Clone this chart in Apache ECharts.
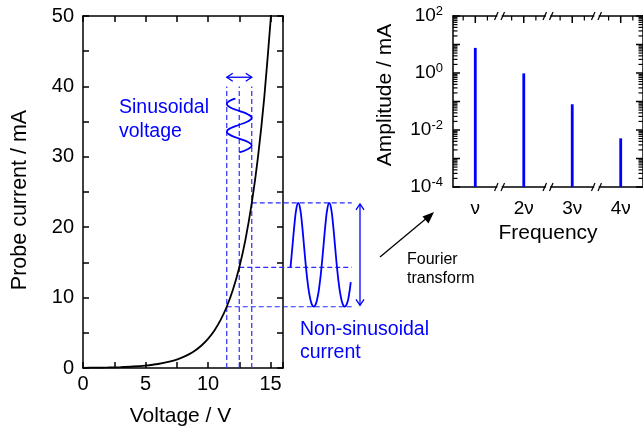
<!DOCTYPE html>
<html>
<head>
<meta charset="utf-8">
<script src="https://cdn.jsdelivr.net/npm/echarts@6/dist/echarts.min.js"></script>
<style>
  html, body { margin: 0; padding: 0; background: #fff; }
  #chart { width: 643px; height: 445px; }
</style>
</head>
<body>
<div id="chart"></div>
<script>
// Probe I–V characteristic: voltage (V) and probe current (mA)
const voltage = [0, 1, 2, 3, 4, 5, 6, 7, 7.5, 8, 8.5, 9, 9.5, 10, 10.5, 11, 11.5, 12, 12.5, 13, 13.5, 14, 14.5, 15, 15.05];
const current = [0.03, 0.05, 0.08, 0.13, 0.21, 0.35, 0.57, 0.94, 1.20, 1.54, 1.97, 2.52, 3.23, 4.14, 5.30, 6.79, 8.70, 11.14, 14.27, 18.28, 23.42, 30.0, 38.4, 49.2, 50.4];

// Sinusoidal voltage modulation (V), running downward along the current scale (mA)
const sweepVolt  = [12.19, 11.79, 11.5, 11.79, 12.5, 13.21, 13.5, 13.21, 12.5, 11.79, 11.5, 11.79, 12.5, 13.21, 13.5, 13.21, 12.5];
const sweepLevel = [38.28, 37.99, 37.50, 37.01, 36.52, 36.02, 35.53, 35.04, 34.55, 34.06, 33.57, 33.08, 32.58, 32.09, 31.60, 31.11, 30.62];

// Resulting non-sinusoidal current (mA), laid out along the time direction to the right of the plot
const responseTime = [16.60, 16.755, 16.91, 17.065, 17.22, 17.375, 17.53, 17.685, 17.84, 17.995, 18.15, 18.305, 18.46, 18.615, 18.77, 18.925,
                      19.08, 19.235, 19.39, 19.545, 19.70, 19.855, 20.01, 20.165, 20.32, 20.475, 20.63, 20.785, 20.94, 21.095, 21.25, 21.42];
const responseCurrent = [14.30, 17.28, 20.29, 22.59, 23.46, 22.59, 20.29, 17.28, 14.30, 11.83, 10.08, 9.05, 8.72, 9.05, 10.08, 11.83,
                         14.30, 17.28, 20.29, 22.59, 23.46, 22.59, 20.29, 17.28, 14.30, 11.83, 10.08, 9.05, 8.72, 9.05, 10.08, 12.2];

// Operating points of the modulation: min / bias / max voltage and the matching currents
const biasVolts = [11.5, 12.5, 13.5];
const biasCurrents = [8.7, 14.3, 23.45];
const guideTop = 40;      // mA, top of the vertical guides
const guideEnd = 21.5;    // end of the horizontal guides, in voltage units
const sweepArrowLevel = 41.3;
const spanArrowX = 22.16;
const spanArrowRange = [23.3, 8.9];

// Fourier spectrum of the current
const harmonics = [1, 2, 3, 4];
const harmonicLabels = ['ν', '2ν', '3ν', '4ν'];
const amplitudes = [7.6, 0.97, 0.08, 0.0051];
const breakPositions = [1.5, 2.5, 3.5];
const decadeTicks = [1e-4, 1e-3, 1e-2, 1e-1, 1, 10, 100];
const decadeLabels = [1e-4, 1e-2, 1, 100];
const topMinorTicks = [0.75, 1.25, 1.75, 2.25, 2.75, 3.25, 3.75, 4.25];
const specMin = 0.54, specMax = 4.46;

const FONT = "'Liberation Sans', Arial, Helvetica, sans-serif";
const BLUE = '#0000ff';
const DASH_BLUE = '#2a2aff';
const TICK = '#000';

// 2..9 sub-decade ticks of the log amplitude axis
const logMinor = [];
for (let e = -4; e < 2; e++) {
  for (let m = 2; m <= 9; m++) logMinor.push(m * Math.pow(10, e));
}

const chart = echarts.init(document.getElementById('chart'), null, { renderer: 'canvas' });

const axisLine = { show: true, onZero: false, lineStyle: { color: '#000', width: 1.5 } };
const noLabel = { show: false };
const ivTick = { show: true, inside: true, length: 6, lineStyle: { color: TICK, width: 1.5 } };

// overlay grid (index 2) shares the current scale of the I–V plot and extends to the right
const OX = 5, OY = 5;

function guideSeries(points) {
  return {
    type: 'line', xAxisIndex: OX, yAxisIndex: OY, data: points, symbol: 'none',
    silent: true, lineStyle: { color: DASH_BLUE, width: 1.2, type: [5, 3] }, z: 3
  };
}

function doubleArrow(params, api) {
  const a = api.coord([api.value(0), api.value(1)]);
  const b = api.coord([api.value(2), api.value(3)]);
  const dx = b[0] - a[0], dy = b[1] - a[1];
  const L = Math.hypot(dx, dy), ux = dx / L, uy = dy / L, nx = -uy, ny = ux;
  const hl = 6, hw = 4;
  const style = { stroke: BLUE, lineWidth: 1.3, fill: null };
  return {
    type: 'group',
    children: [
      { type: 'line', shape: { x1: a[0], y1: a[1], x2: b[0], y2: b[1] }, style },
      { type: 'polyline', shape: { points: [[b[0] - ux * hl + nx * hw, b[1] - uy * hl + ny * hw], b, [b[0] - ux * hl - nx * hw, b[1] - uy * hl - ny * hw]] }, style },
      { type: 'polyline', shape: { points: [[a[0] + ux * hl + nx * hw, a[1] + uy * hl + ny * hw], a, [a[0] + ux * hl - nx * hw, a[1] + uy * hl - ny * hw]] }, style }
    ]
  };
}

// short inward tick marks on the spectrum frame: [x, y, major?, side]
const specTicks = [];
decadeTicks.forEach(v => { specTicks.push([specMin, v, 1, 0]); specTicks.push([specMax, v, 1, 1]); });
logMinor.forEach(v => { specTicks.push([specMin, v, 0, 0]); specTicks.push([specMax, v, 0, 1]); });
harmonics.forEach(h => specTicks.push([h, 100, 1, 2]));
topMinorTicks.forEach(h => specTicks.push([h, 100, 0, 2]));

const series = [
  // I–V curve
  {
    type: 'line', xAxisIndex: 0, yAxisIndex: 0, symbol: 'none', smooth: 0.3,
    data: voltage.map((v, i) => [v, current[i]]),
    lineStyle: { color: '#000', width: 1.8 }, z: 4
  },
  // vertical guides at the voltage extremes and bias
  ...biasVolts.map(v => guideSeries([[v, 0], [v, guideTop]])),
  // horizontal guides at the corresponding currents
  ...biasVolts.map((v, i) => guideSeries([[v, biasCurrents[i]], [guideEnd, biasCurrents[i]]])),
  // voltage modulation
  {
    type: 'line', xAxisIndex: OX, yAxisIndex: OY, symbol: 'none', smooth: 0.5,
    data: sweepVolt.map((v, i) => [v, sweepLevel[i]]),
    lineStyle: { color: BLUE, width: 1.8 }, z: 5
  },
  // current response
  {
    type: 'line', xAxisIndex: OX, yAxisIndex: OY, symbol: 'none', smooth: 0.5,
    data: responseTime.map((t, i) => [t, responseCurrent[i]]),
    lineStyle: { color: BLUE, width: 1.8 }, z: 5
  },
  // amplitude arrows
  {
    type: 'custom', xAxisIndex: OX, yAxisIndex: OY, silent: true, z: 5,
    data: [
      [biasVolts[0], sweepArrowLevel, biasVolts[2], sweepArrowLevel],
      [spanArrowX, spanArrowRange[0], spanArrowX, spanArrowRange[1]]
    ],
    renderItem: doubleArrow
  },
  // spectrum peaks
  {
    type: 'custom', xAxisIndex: 2, yAxisIndex: 2, clip: false, silent: true, z: 5,
    data: harmonics.map((h, i) => [h, amplitudes[i]]),
    renderItem(params, api) {
      const top = api.coord([api.value(0), api.value(1)]);
      const base = api.coord([api.value(0), decadeTicks[0]]);
      return {
        type: 'rect',
        shape: { x: top[0] - 1.4, y: top[1], width: 2.8, height: base[1] - top[1] },
        style: { fill: BLUE }
      };
    }
  },
  // spectrum frame ticks
  {
    type: 'custom', xAxisIndex: 2, yAxisIndex: 2, clip: false, silent: true, z: 6,
    data: specTicks,
    renderItem(params, api) {
      const p = api.coord([api.value(0), api.value(1)]);
      const major = api.value(2) > 0.5;
      const len = major ? 7 : 4.5;
      const side = Math.round(api.value(3));
      let x2 = p[0], y2 = p[1];
      if (side === 0) x2 += len; else if (side === 1) x2 -= len; else y2 += len;
      return {
        type: 'polyline',
        shape: { points: [[p[0], p[1]], [x2, y2]] },
        style: { stroke: TICK, lineWidth: major ? 1.5 : 1.2, fill: null }
      };
    }
  },
  // axis break marks on the frequency axis
  {
    type: 'custom', xAxisIndex: 2, yAxisIndex: 2, clip: false, silent: true, z: 7,
    data: breakPositions.map(b => [b, 1]),
    renderItem(params, api) {
      const children = [];
      [decadeTicks[decadeTicks.length - 1], decadeTicks[0]].forEach(yv => {
        const p = api.coord([api.value(0), yv]);
        children.push({ type: 'rect', shape: { x: p[0] - 2.2, y: p[1] - 2.5, width: 4.4, height: 5 }, style: { fill: '#fff' } });
        children.push({ type: 'line', shape: { x1: p[0] - 5, y1: p[1] + 4, x2: p[0] - 1.5, y2: p[1] - 4 }, style: { stroke: '#000', lineWidth: 1.2 } });
        children.push({ type: 'line', shape: { x1: p[0] + 1.5, y1: p[1] + 4, x2: p[0] + 5, y2: p[1] - 4 }, style: { stroke: '#000', lineWidth: 1.2 } });
      });
      return { type: 'group', children };
    }
  }
];

const option = {
  animation: false,
  backgroundColor: '#fff',
  textStyle: { fontFamily: FONT },
  grid: [
    { left: 83, top: 16, width: 200, height: 352 },
    { left: 453, top: 16, width: 195, height: 171 },
    { left: 83, top: 16, width: 300, height: 352 }
  ],
  xAxis: [
    {
      gridIndex: 0, type: 'value', position: 'bottom', min: 0, max: 16, interval: 2.5,
      axisLine, splitLine: { show: false }, axisTick: ivTick,
      axisLabel: {
        color: '#000', fontSize: 20, fontFamily: FONT, margin: 6,
        formatter: v => (v % 5 === 0 ? String(v) : '')
      },
      name: 'Voltage / V', nameLocation: 'middle', nameGap: 38,
      nameTextStyle: { color: '#000', fontSize: 21, fontFamily: FONT, padding: [0, 5, 0, 0] }
    },
    {
      gridIndex: 0, type: 'value', position: 'top', min: 0, max: 16, interval: 2.5,
      axisLine, splitLine: { show: false }, axisLabel: noLabel, axisTick: ivTick
    },
    {
      gridIndex: 1, type: 'value', position: 'bottom', min: specMin, max: specMax,
      axisLine, splitLine: { show: false }, axisTick: { show: false },
      axisLabel: {
        customValues: harmonics, color: '#000', fontSize: 19, fontFamily: FONT, margin: 12,
        formatter: v => harmonicLabels[harmonics.indexOf(Math.round(v))] || ''
      },
      name: 'Frequency', nameLocation: 'middle', nameGap: 36,
      nameTextStyle: { color: '#000', fontSize: 21, fontFamily: FONT }
    },
    {
      gridIndex: 1, type: 'value', position: 'top', min: specMin, max: specMax,
      axisLine, splitLine: { show: false }, axisLabel: noLabel, axisTick: { show: false }
    },
    { gridIndex: 1, type: 'value', show: false, min: specMin, max: specMax },
    { gridIndex: 2, type: 'value', show: false, min: 0, max: 24 }
  ],
  yAxis: [
    {
      gridIndex: 0, type: 'value', position: 'left', min: 0, max: 50, interval: 5,
      axisLine, splitLine: { show: false }, axisTick: ivTick,
      axisLabel: {
        color: '#000', fontSize: 20, fontFamily: FONT, margin: 9,
        formatter: v => (v % 10 === 0 ? String(v) : '')
      },
      name: 'Probe current / mA', nameLocation: 'middle', nameGap: 52, nameRotate: 90,
      nameTextStyle: { color: '#000', fontSize: 21.5, fontFamily: FONT, padding: [0, 16, 0, 0] }
    },
    {
      gridIndex: 0, type: 'value', position: 'right', min: 0, max: 50, interval: 5,
      axisLine, splitLine: { show: false }, axisLabel: noLabel, axisTick: ivTick
    },
    {
      gridIndex: 1, type: 'log', logBase: 10, position: 'left', min: 1e-4, max: 100,
      axisLine, splitLine: { show: false }, axisTick: { show: false },
      axisLabel: {
        customValues: decadeLabels, margin: 10,
        formatter: v => '{b|10}{s|' + Math.round(Math.log10(v)) + '}',
        rich: {
          b: { fontSize: 19, fontFamily: FONT, color: '#000', lineHeight: 22 },
          s: { fontSize: 13, fontFamily: FONT, color: '#000', verticalAlign: 'top', lineHeight: 13 }
        }
      },
      name: 'Amplitude / mA', nameLocation: 'middle', nameGap: 57, nameRotate: 90,
      nameTextStyle: { color: '#000', fontSize: 21, fontFamily: FONT, padding: [0, 0, 0, 13] }
    },
    {
      gridIndex: 1, type: 'log', logBase: 10, position: 'right', min: 1e-4, max: 100,
      axisLine, splitLine: { show: false }, axisLabel: noLabel, axisTick: { show: false }
    },
    { gridIndex: 1, type: 'log', show: false, min: 1e-4, max: 100 },
    { gridIndex: 2, type: 'value', show: false, min: 0, max: 50 }
  ],
  graphic: [
    {
      type: 'text', left: 119, top: 96,
      style: { text: 'Sinusoidal\nvoltage', fill: BLUE, font: '19.5px ' + FONT, lineHeight: 23.5 }
    },
    {
      type: 'text', left: 300, top: 318,
      style: { text: 'Non-sinusoidal\ncurrent', fill: BLUE, font: '19.5px ' + FONT, lineHeight: 23 }
    },
    {
      type: 'text', left: 407, top: 250,
      style: { text: 'Fourier\ntransform', fill: '#000', font: '16px ' + FONT, lineHeight: 19 }
    },
    {
      type: 'group',
      children: [
        { type: 'line', shape: { x1: 380, y1: 257, x2: 428, y2: 217 }, style: { stroke: '#000', lineWidth: 1.3 } },
        { type: 'polygon', shape: { points: [[434, 212], [422.5, 216.5], [428.5, 223.5]] }, style: { fill: '#000' } }
      ]
    }
  ],
  series
};

chart.setOption(option);
</script>
</body>
</html>
